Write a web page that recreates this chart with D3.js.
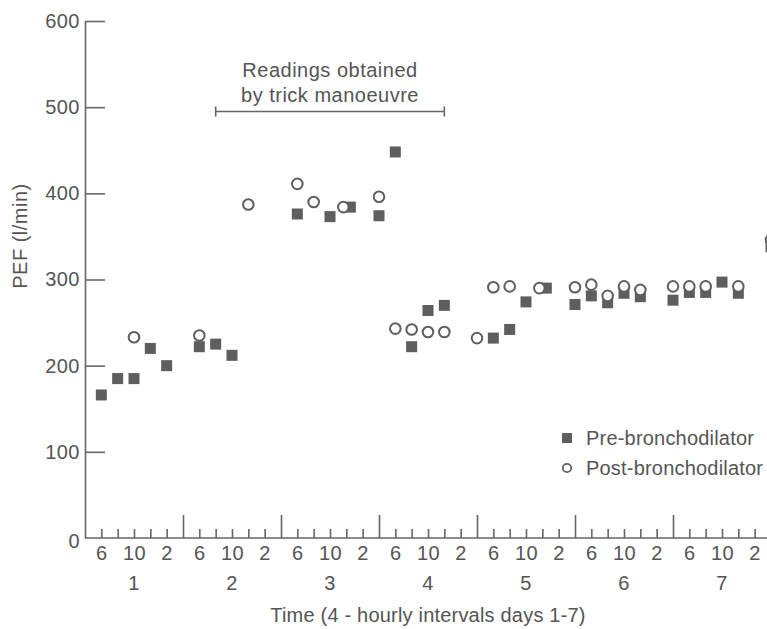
<!DOCTYPE html>
<html>
<head>
<meta charset="utf-8">
<script src="https://cdn.jsdelivr.net/npm/d3@7"></script>
<style>
  html, body { margin: 0; padding: 0; background: #fff; overflow: hidden; }
  svg { display: block; }
  text { font-family: "Liberation Sans", Arial, sans-serif; fill: #555; letter-spacing: 0.5px; }
</style>
</head>
<body>
<div id="chart"></div>
<script>
// time slots: 6 four-hourly readings per day, slot 0 = start of day 1
const days = [1, 2, 3, 4, 5, 6, 7];
const slotLabels = ['', '6', '', '10', '', '2']; // index = slot % 6
const yTicks = [0, 100, 200, 300, 400, 500, 600];

const preSlots = [1, 2, 3, 4, 5, 7, 8, 9, 13, 15, 16, 18, 19, 20, 21, 22,
  25, 26, 27, 28, 30, 31, 32, 33, 34, 36, 37, 38, 39, 40, 42];
const preValues = [166, 185, 185, 220, 200, 222, 225, 212, 376, 373, 384, 374, 448, 222, 264, 270,
  232, 242, 274, 290, 271, 281, 273, 284, 280, 276, 285, 285, 297, 284, 338];

const postSlots = [3, 7, 10, 13, 14, 16, 18, 19, 20, 21, 22, 24,
  25, 26, 28, 30, 31, 32, 33, 34, 36, 37, 38, 40, 42];
const postValues = [233, 235, 387, 411, 390, 384, 396, 243, 242, 239, 239, 232,
  291, 292, 290, 291, 294, 281, 292, 288, 292, 292, 292, 292, 346];

// trick manoeuvre bracket (slots and PEF level)
const trickRange = [8, 22];
const trickLevel = 495;
const trickText = ['Readings obtained', 'by trick manoeuvre'];

const legendItems = ['Pre-bronchodilator', 'Post-bronchodilator'];

const WIDTH = 767;
const HEIGHT = 629;
const margin = { top: 21, left: 85, bottom: 91 };
const innerHeight = HEIGHT - margin.top - margin.bottom;
const grey = '#5e5e5e';
const FONT = 20;

const svg = d3
  .select('#chart')
  .append('svg')
  .attr('width', WIDTH)
  .attr('height', HEIGHT);

const scaleX = d3.scaleLinear().domain([0, 42]).range([0, 686]);
const scaleY = d3.scaleLinear().domain([0, 600]).range([innerHeight, 0]);

const g = svg
  .append('g')
  .attr('transform', `translate(${margin.left},${margin.top})`);

// y axis, ticks pointing into the plot
const axisY = d3
  .axisLeft(scaleY)
  .tickValues(yTicks)
  .tickSize(-20)
  .tickSizeOuter(0)
  .tickPadding(5);
const gy = g.append('g').call(axisY);
gy.selectAll('.tick line').filter((d) => d === 0).remove();
gy.selectAll('.tick text').filter((d) => d === 0).attr('dy', '0.45em');

// x axis, ticks pointing up
const axisX = d3
  .axisBottom(scaleX)
  .tickValues(d3.range(1, 43))
  .tickSize(0)
  .tickSizeOuter(0)
  .tickPadding(8)
  .tickFormat((d) => slotLabels[d % 6]);
const gx = g
  .append('g')
  .attr('transform', `translate(0,${innerHeight})`)
  .call(axisX);
gx.selectAll('.tick line').attr('y2', (d) => (d % 6 === 0 ? -23 : -9));
gx.selectAll('.tick text').filter((d) => slotLabels[d % 6] === '').remove();
gx.select('.domain').attr('d', `M0,0H${WIDTH}`);

[gx, gy].forEach((a) => {
  a.selectAll('line, path').attr('stroke', '#666').attr('stroke-width', 1.6);
  a.selectAll('text')
    .attr('font-size', FONT)
    .attr('fill', '#555')
    .attr('font-family', 'Liberation Sans, Arial, sans-serif');
});

// day numbers
g.append('g')
  .selectAll('text')
  .data(days)
  .join('text')
  .attr('x', (d) => scaleX((d - 1) * 6 + 3))
  .attr('y', innerHeight + 52)
  .attr('text-anchor', 'middle')
  .attr('font-size', FONT)
  .text((d) => d);

// axis titles
svg
  .append('text')
  .attr('x', margin.left + scaleX(21))
  .attr('y', 622)
  .attr('text-anchor', 'middle')
  .attr('font-size', FONT)
  .style('letter-spacing', '0.2px')
  .text('Time (4 - hourly intervals days 1-7)');
svg
  .append('text')
  .attr('transform', 'translate(27,236) rotate(-90)')
  .attr('text-anchor', 'middle')
  .attr('font-size', FONT)
  .text('PEF (l/min)');

// trick manoeuvre bracket
const bx0 = scaleX(trickRange[0]);
const bx1 = scaleX(trickRange[1]);
const by = scaleY(trickLevel);
const bracket = g.append('g').attr('stroke', '#666').attr('stroke-width', 1.6);
bracket.append('line').attr('x1', bx0).attr('x2', bx1).attr('y1', by).attr('y2', by);
[bx0, bx1].forEach((x) =>
  bracket.append('line').attr('x1', x).attr('x2', x).attr('y1', by - 5).attr('y2', by + 5)
);
g.append('g')
  .selectAll('text')
  .data(trickText)
  .join('text')
  .attr('x', (bx0 + bx1) / 2)
  .attr('y', (d, i) => by - 34 + i * 24.5)
  .attr('text-anchor', 'middle')
  .attr('font-size', FONT)
  .text((d) => d);

// pairs that coincide are drawn side by side
const post = postSlots.map((s, i) => ({ slot: s, value: postValues[i] }));
const pre = preSlots.map((s, i) => ({ slot: s, value: preValues[i] }));
const clash = (d, other) =>
  other.some((o) => o.slot === d.slot && Math.abs(o.value - d.value) < 5);

// pre-bronchodilator squares
const size = 11;
g.append('g')
  .selectAll('rect')
  .data(pre)
  .join('rect')
  .attr('x', (d) => scaleX(d.slot) - size / 2 + (clash(d, post) ? 4 : 0))
  .attr('y', (d) => scaleY(d.value) - size / 2)
  .attr('width', size)
  .attr('height', size)
  .attr('fill', grey);

// post-bronchodilator circles
g.append('g')
  .selectAll('circle')
  .data(post)
  .join('circle')
  .attr('cx', (d) => scaleX(d.slot) + (clash(d, pre) ? -3 : 0))
  .attr('cy', (d) => scaleY(d.value))
  .attr('r', 5.3)
  .attr('fill', '#fff')
  .attr('stroke', grey)
  .attr('stroke-width', 2);

// legend
const legend = svg.append('g').attr('transform', 'translate(567,438)');
legend
  .append('rect')
  .attr('x', -5)
  .attr('y', -5)
  .attr('width', 10)
  .attr('height', 10)
  .attr('fill', grey);
legend
  .append('circle')
  .attr('cx', 0)
  .attr('cy', 30)
  .attr('r', 4.2)
  .attr('fill', '#fff')
  .attr('stroke', grey)
  .attr('stroke-width', 1.8);
legend
  .selectAll('text')
  .data(legendItems)
  .join('text')
  .attr('x', 19)
  .attr('y', (d, i) => 7 + i * 30)
  .attr('font-size', FONT)
  .style('letter-spacing', '0.2px')
  .text((d) => d);
</script>
</body>
</html>
